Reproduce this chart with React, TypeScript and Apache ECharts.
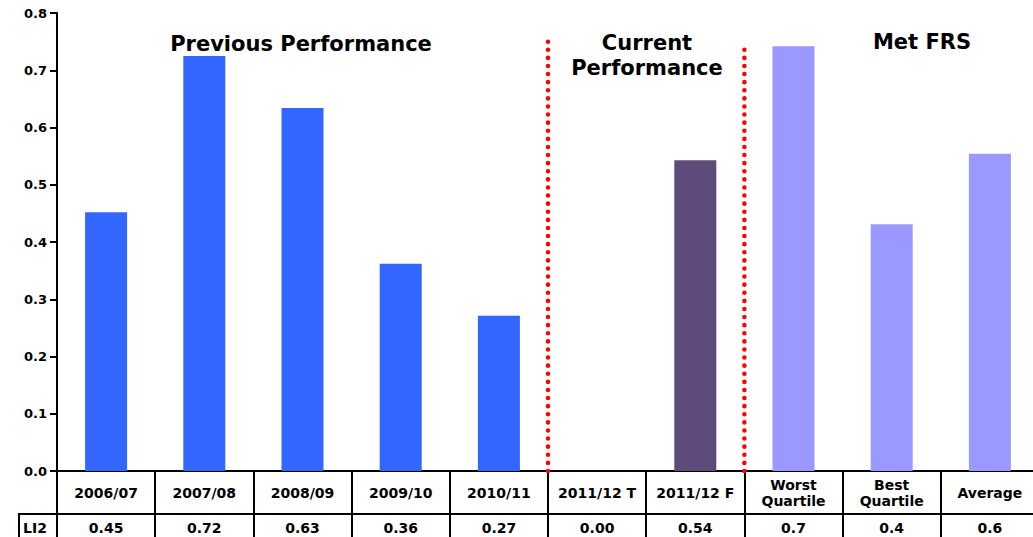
import React, { useEffect, useRef } from "react";
import * as echarts from "echarts";

const categories = [
  "2006/07",
  "2007/08",
  "2008/09",
  "2009/10",
  "2010/11",
  "2011/12 T",
  "2011/12 F",
  "Worst\nQuartile",
  "Best\nQuartile",
  "Average",
];
const barValues = [0.452, 0.725, 0.634, 0.362, 0.271, 0, 0.543, 0.742, 0.431, 0.554];
const groups = ["prev", "prev", "prev", "prev", "prev", "cur", "cur", "met", "met", "met"];
const tableLabels = ["0.45", "0.72", "0.63", "0.36", "0.27", "0.00", "0.54", "0.7", "0.4", "0.6"];
const rowName = "LI2";
const dividerPositions = [5, 7];
const dividerTops = [0.75, 0.744];
const sectionTitles = ["Previous Performance", "Current\nPerformance", "Met FRS"];

const groupColors: Record<string, string> = {
  prev: "#3366FF",
  cur: "#5F4B7B",
  met: "#9999FF",
};

const FONT = "DejaVu Sans";

export default function App() {
  const ref = useRef<HTMLDivElement>(null);

  useEffect(() => {
    if (!ref.current) return;
    const chart = echarts.init(ref.current, undefined, { renderer: "svg" });
    const axisLineStyle = { color: "#000", width: 2 };
    const option: any = {
      animation: false,
      backgroundColor: "#fff",
      grid: { left: 57, top: 13, width: 982, height: 458, containLabel: false },
      xAxis: [
        {
          type: "category",
          data: categories,
          position: "bottom",
          axisLine: { show: true, lineStyle: axisLineStyle },
          axisTick: { show: true, interval: 0, length: 66, alignWithLabel: false, lineStyle: axisLineStyle },
          axisLabel: {
            interval: 0,
            margin: 22,
            verticalAlign: "middle",
            color: "#000",
            fontFamily: FONT,
            fontWeight: "bold",
            fontSize: 14,
            lineHeight: 16,
          },
          splitLine: { show: false },
        },
        {
          type: "category",
          data: categories,
          position: "bottom",
          offset: 43,
          axisLine: { show: true, lineStyle: axisLineStyle },
          axisTick: { show: true, interval: 0, length: 30, alignWithLabel: false, lineStyle: axisLineStyle },
          axisLabel: {
            interval: 0,
            margin: 14,
            verticalAlign: "middle",
            color: "#000",
            fontFamily: FONT,
            fontWeight: "bold",
            fontSize: 14,
            formatter: (_v: string, i: number) => tableLabels[i],
          },
          splitLine: { show: false },
        },
        {
          type: "value",
          min: 0,
          max: categories.length,
          show: false,
        },
      ],
      yAxis: {
        type: "value",
        min: 0,
        max: 0.8,
        interval: 0.1,
        axisLine: { show: true, lineStyle: axisLineStyle },
        axisTick: { show: true, length: 7, lineStyle: axisLineStyle },
        axisLabel: {
          margin: 10,
          color: "#000",
          fontFamily: FONT,
          fontWeight: "bold",
          fontSize: 13,
          formatter: (v: number) => v.toFixed(1),
        },
        splitLine: { show: false },
      },
      series: [
        {
          type: "bar",
          xAxisIndex: 0,
          barWidth: 42,
          data: barValues.map((v, i) => ({
            value: v,
            itemStyle: { color: groupColors[groups[i]] },
          })),
        },
        ...dividerPositions.map((p, i) => ({
          type: "line",
          xAxisIndex: 2,
          symbol: "none",
          silent: true,
          data: [
            [p, 0],
            [p, dividerTops[i]],
          ],
          lineStyle: { color: "#FF0000", width: 4.5, type: [0.1, 8], cap: "round" },
        })),
      ],
      graphic: [
        { type: "line", shape: { x1: 18, y1: 514, x2: 57, y2: 514 }, style: { stroke: "#000", lineWidth: 2 } },
        { type: "line", shape: { x1: 19, y1: 514, x2: 19, y2: 540 }, style: { stroke: "#000", lineWidth: 2 } },
        {
          type: "text",
          x: 23,
          y: 528,
          style: {
            text: rowName,
            fill: "#000",
            font: `bold 14px "${FONT}"`,
            verticalAlign: "middle",
            textAlign: "left",
          },
        },
        {
          type: "text",
          x: 301,
          y: 44,
          style: {
            text: sectionTitles[0],
            fill: "#000",
            font: `bold 21px "${FONT}"`,
            textAlign: "center",
            verticalAlign: "middle",
          },
        },
        {
          type: "text",
          x: 647,
          y: 55,
          style: {
            text: sectionTitles[1],
            fill: "#000",
            font: `bold 21px "${FONT}"`,
            lineHeight: 25,
            textAlign: "center",
            verticalAlign: "middle",
          },
        },
        {
          type: "text",
          x: 922,
          y: 42,
          style: {
            text: sectionTitles[2],
            fill: "#000",
            font: `bold 21px "${FONT}"`,
            textAlign: "center",
            verticalAlign: "middle",
          },
        },
      ],
    };
    chart.setOption(option);
    return () => chart.dispose();
  }, []);

  return (
    <div
      style={{
        position: "fixed",
        left: 0,
        top: 0,
        width: 1033,
        height: 537,
        overflow: "hidden",
        background: "#fff",
      }}
    >
      <div ref={ref} style={{ width: 1045, height: 537 }} />
    </div>
  );
}
